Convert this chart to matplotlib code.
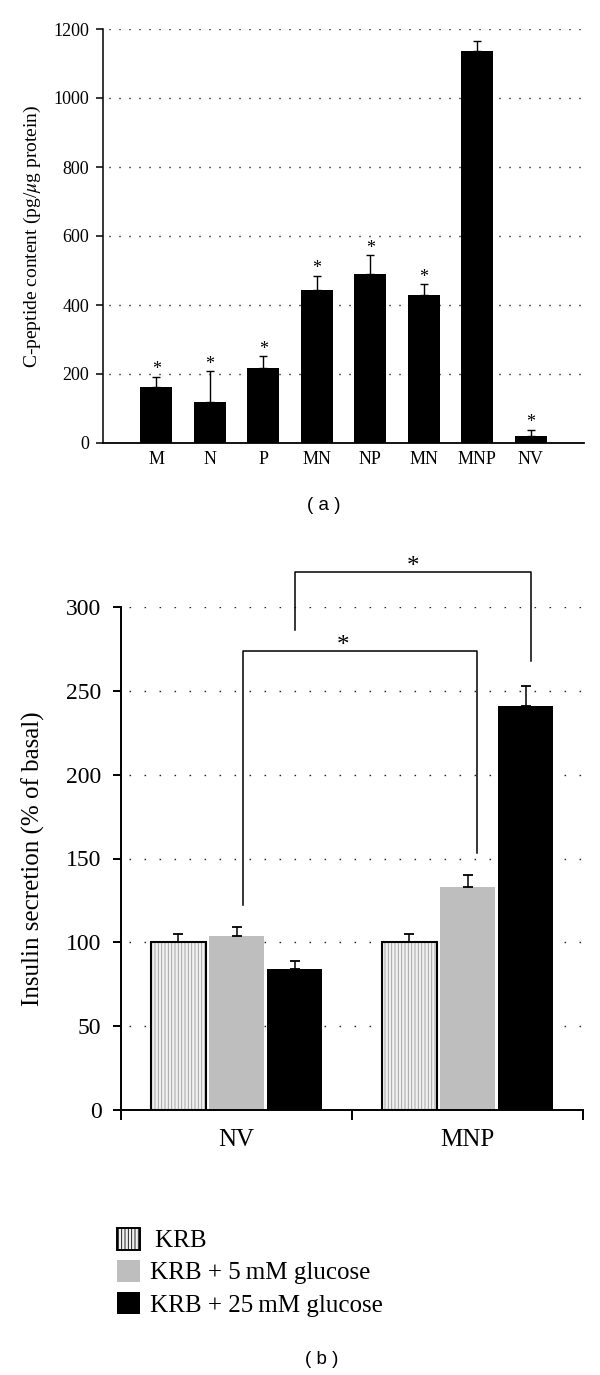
import matplotlib
matplotlib.use("Agg")
import matplotlib.pyplot as plt
from matplotlib.patches import Patch
import numpy as np

plt.rcParams['font.family'] = ['Liberation Serif', 'DejaVu Serif']
plt.rcParams['mathtext.fontset'] = 'stix'
plt.rcParams['hatch.linewidth'] = 0.6

# ---- Panel (a) data ----
cats_a = ["M", "N", "P", "MN", "NP", "MN", "MNP", "NV"]
vals_a = [162, 118, 218, 444, 490, 430, 1136, 21]
errs_a = [30, 90, 34, 41, 54, 31, 30, 18]
star_a = [True, True, True, True, True, True, False, True]
yticks_a = [0, 200, 400, 600, 800, 1000, 1200]

# ---- Panel (b) data ----
groups_b = ["NV", "MNP"]
series_b = ["KRB", "KRB + 5\u2009mM glucose", "KRB + 25\u2009mM glucose"]
krb = [100, 100]
krb_err = [5, 5]
g5 = [104, 133]
g5_err = [5, 7]
g25 = [84, 241]
g25_err = [5, 12]
yticks_b = [0, 50, 100, 150, 200, 250, 300]

W, H = 600, 1375
fig = plt.figure(figsize=(6, 13.75), dpi=100)


def fx(px):
    return px / W


def fy(py):
    return 1 - py / H


# ================= Panel (a) =================
L1, R1, T1, B1 = 103, 584, 29, 443
ax1 = fig.add_axes([fx(L1), fy(B1), (R1 - L1) / W, (B1 - T1) / H])
x = np.arange(len(cats_a))
for yv in yticks_a[1:]:
    ax1.axhline(yv, color='#222222', lw=1.0, ls=(3, (1, 6.2)), zorder=0)
ax1.bar(x, vals_a, width=0.6, color='black', zorder=2)
ax1.errorbar(x, vals_a, yerr=[np.zeros(len(errs_a)), errs_a], fmt='none',
             ecolor='black', elinewidth=1.0, capsize=2.9, capthick=1.0, zorder=3)
for xi, v, e, s in zip(x, vals_a, errs_a, star_a):
    if s:
        ax1.annotate("*", (xi, v + e), xytext=(0, 5), textcoords='offset points',
                     ha='center', va='center', fontsize=13)
ax1.set_xlim(-1, 8)
ax1.set_ylim(0, 1200)
ax1.set_yticks(yticks_a)
ax1.set_yticklabels([str(t) for t in yticks_a], fontsize=13)
ax1.set_xticks(x)
ax1.set_xticklabels(cats_a, fontsize=13)
ax1.tick_params(axis='x', length=0, pad=6)
ax1.tick_params(axis='y', length=5, width=1.1, direction='out', pad=5)
for sp in ['top', 'right']:
    ax1.spines[sp].set_visible(False)
ax1.spines['left'].set_linewidth(1.1)
ax1.spines['bottom'].set_linewidth(1.3)
ax1.set_ylabel("C-peptide content (pg/$\\mu$g protein)", fontsize=14)
ax1.yaxis.set_label_coords((43 - L1) / (R1 - L1), 0.5)
fig.text(fx(324), fy(506), "( a )", ha='center', va='center', fontsize=13.5,
         family='Liberation Sans')

# ================= Panel (b) =================
L2, R2, T2, B2 = 121, 583, 607, 1110
ax2 = fig.add_axes([fx(L2), fy(B2), (R2 - L2) / W, (B2 - T2) / H])
gx = np.arange(len(groups_b))
s = 0.253
bw = 0.238
for yv in yticks_b[1:]:
    ax2.axhline(yv, color='#222222', lw=1.0, ls=(5, (1.1, 9.7)), zorder=0)

# KRB: hatched light bars with black outline
ax2.bar(gx - s, krb, width=bw, color='#f0f0f0', edgecolor='#9a9a9a', hatch='|||||',
        linewidth=0, zorder=2)
ax2.bar(gx - s, krb, width=bw, facecolor='none', edgecolor='black', linewidth=1.5, zorder=3)
ax2.bar(gx, g5, width=bw, color='#bebebe', zorder=2)
ax2.bar(gx + s, g25, width=bw, color='black', zorder=2)
for xs, v, e in [(gx - s, krb, krb_err), (gx, g5, g5_err), (gx + s, g25, g25_err)]:
    ax2.errorbar(xs, v, yerr=[np.zeros(len(e)), e], fmt='none', ecolor='black',
                 elinewidth=1.1, capsize=3.6, capthick=1.3, zorder=4)

ax2.set_xlim(-0.5, 1.5)
ax2.set_ylim(0, 300)
ax2.set_yticks(yticks_b)
ax2.set_yticklabels([str(t) for t in yticks_b], fontsize=17)
ax2.set_xticks([-0.5, 0.5, 1.5])
ax2.set_xticklabels([])
ax2.set_xticks(gx, minor=True)
ax2.set_xticklabels(groups_b, minor=True, fontsize=18)
ax2.tick_params(axis='x', which='major', length=7, width=1.4, direction='out')
ax2.tick_params(axis='x', which='minor', length=0, pad=14)
ax2.tick_params(axis='y', length=6, width=1.4, direction='out', pad=8)
for sp in ['top', 'right']:
    ax2.spines[sp].set_visible(False)
ax2.spines['left'].set_linewidth(1.4)
ax2.spines['bottom'].set_linewidth(1.4)
ax2.set_ylabel("Insulin secretion (% of basal)", fontsize=18)
ax2.yaxis.set_label_coords((45 - L2) / (R2 - L2), 0.5)


# significance brackets
def bracket(ax, x1, x2, y1, y2, ytop, xstar):
    ax.plot([x1, x1, x2, x2], [y1, ytop, ytop, y2], color='black', lw=1.1,
            clip_on=False, zorder=5)
    ax.annotate("*", (xstar, ytop), xytext=(0, 3.5), textcoords='offset points',
                ha='center', va='center', fontsize=18, annotation_clip=False)


bracket(ax2, 0 + 0.03, 1 + 0.04, 122, 153, 274, 0.46)
bracket(ax2, 0 + s, 1 + s + 0.02, 286, 268, 321, 0.5 + s + 0.01)

# legend
handles = [
    Patch(facecolor='#f0f0f0', edgecolor='black', hatch='|||||', linewidth=1.4),
    Patch(facecolor='#bebebe', edgecolor='none'),
    Patch(facecolor='black', edgecolor='none'),
]
labels = ["\u2009" + series_b[0], series_b[1], series_b[2]]
fig.legend(handles, labels, loc='upper left', bbox_to_anchor=(fx(117), fy(1228)),
           frameon=False, fontsize=18, handlelength=0.92, handleheight=0.95,
           handletextpad=0.42, labelspacing=0.31, borderpad=0, borderaxespad=0)

fig.text(fx(322), fy(1359), "( b )", ha='center', va='center', fontsize=13.5,
         family='Liberation Sans')

fig.savefig("out.png", dpi=100)
